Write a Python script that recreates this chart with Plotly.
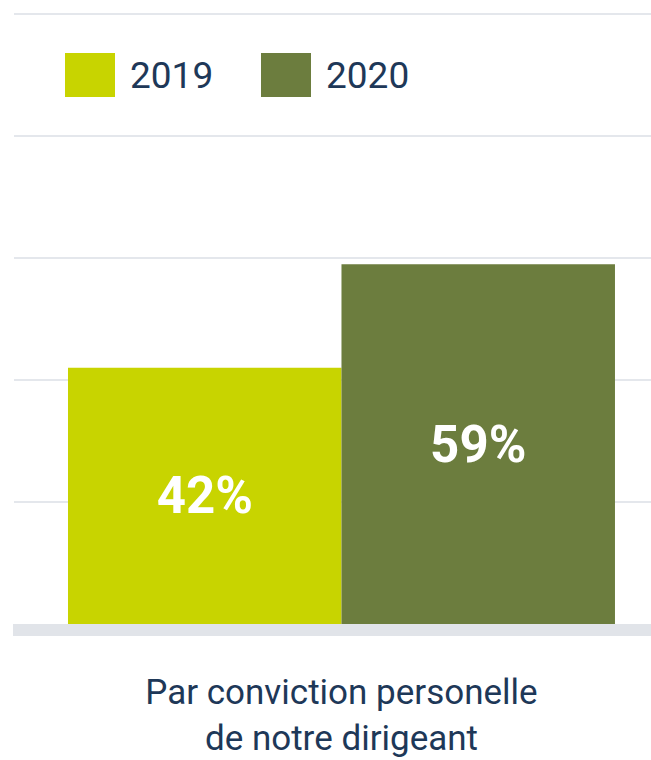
import plotly.graph_objects as go

# Data
category = ["Par conviction personelle<br>de notre dirigeant"]
years = ["2019", "2020"]
values_2019 = [42]
values_2020 = [59]
colors = ["#c8d400", "#6c7d3e"]

TEXT_COLOR = "#1e3858"
FONT = "Roboto"

W, H = 651, 760
M_L, M_R, M_T, M_B = 14, 0, 8, 136
PW = W - M_L - M_R
PH = H - M_T - M_B


def px_x(x):
    """Pixel x -> paper x."""
    return (x - M_L) / PW


def px_y(y):
    """Pixel y (from top) -> paper y."""
    return (H - M_B - y) / PH


fig = go.Figure()
for name, vals, col in zip(years, [values_2019, values_2020], colors):
    fig.add_trace(go.Bar(
        x=category,
        y=vals,
        name=name,
        marker=dict(color=col, line=dict(width=0)),
        texttemplate="%{y}%",
        textposition="inside",
        insidetextanchor="middle",
        textangle=0,
        textfont=dict(family=FONT, size=51, color="white", weight="bold"),
        showlegend=False,
    ))

# Custom legend: large swatches with labels
shapes = []
annotations = []
legend_x = [65, 261]
for i, (name, col) in enumerate(zip(years, colors)):
    x0 = legend_x[i]
    shapes.append(dict(type="rect", xref="paper", yref="paper",
                       x0=px_x(x0), x1=px_x(x0 + 50),
                       y0=px_y(97), y1=px_y(53),
                       fillcolor=col, line=dict(width=0)))
    annotations.append(dict(xref="paper", yref="paper",
                            x=px_x(x0 + 63), y=px_y(76),
                            xanchor="left", yanchor="middle",
                            text=name, showarrow=False,
                            font=dict(family=FONT, size=37, color=TEXT_COLOR)))

# Grey baseline band under the bars
shapes.append(dict(type="rect", xref="paper", yref="paper",
                   x0=px_x(13), x1=1, y0=px_y(636), y1=0,
                   fillcolor="#e1e4e9", line=dict(width=0), layer="below"))

fig.update_layout(
    width=W, height=H,
    margin=dict(l=M_L, r=M_R, t=M_T, b=M_B, autoexpand=False),
    paper_bgcolor="white",
    plot_bgcolor="white",
    barmode="group",
    bargap=0.1413,
    bargroupgap=0,
    shapes=shapes,
    annotations=annotations,
    font=dict(family=FONT, color=TEXT_COLOR),
    xaxis=dict(
        type="category",
        range=[-0.5141, 0.4859],
        automargin=False,
        showgrid=False, zeroline=False, showline=False,
        ticks="outside", ticklen=37, tickcolor="rgba(0,0,0,0)",
        tickfont=dict(family=FONT, size=35, color=TEXT_COLOR),
    ),
    yaxis=dict(
        range=[0, 101],
        automargin=False,
        tickvals=[20, 40, 60, 80, 100],
        showticklabels=False,
        showgrid=True, gridcolor="#e4e7ec", gridwidth=2,
        zeroline=False, showline=False, ticks="",
    ),
)

fig.write_html("out.html")
